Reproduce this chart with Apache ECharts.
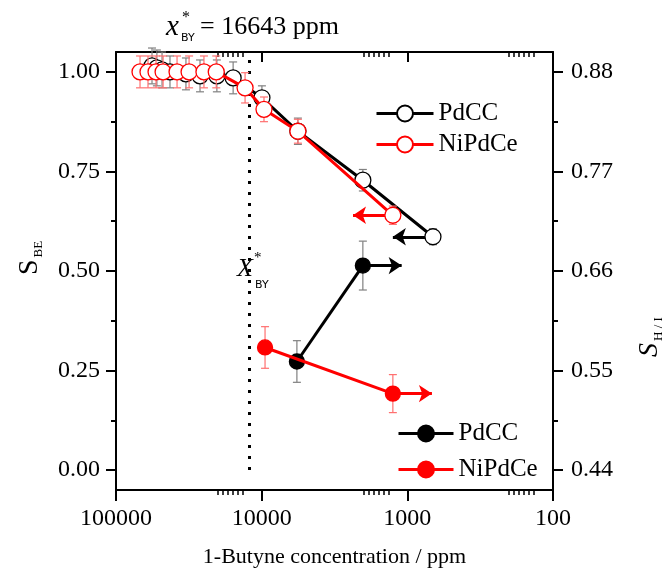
<!DOCTYPE html>
<html>
<head>
<meta charset="utf-8">
<script src="https://cdn.jsdelivr.net/npm/echarts@6/dist/echarts.min.js"></script>
<style>
  html, body { margin: 0; padding: 0; background: #fff; }
  #chart { width: 668px; height: 577px; }
</style>
</head>
<body>
<div id="chart"></div>
<script>
// open symbols: S_BE (left axis) vs 1-butyne concentration (ppm)
const pdccOpenX = [56600, 52400, 48300, 42600, 33100, 26500, 20300, 15700, 9960, 5640, 2020, 667];
const pdccOpenY = [1.015, 1.01, 1.005, 1.0, 0.995, 0.99, 0.99, 0.985, 0.935, 0.851, 0.728, 0.586];
const pdccOpenErr = [0.045, 0.045, 0.045, 0.04, 0.04, 0.04, 0.04, 0.04, 0.03, 0.033, 0.027, 0.02];

const nipdceOpenX = [68400, 60300, 53100, 47500, 38100, 31500, 24900, 20500, 13000, 9640, 5640, 1257];
const nipdceOpenY = [1.0, 1.0, 1.0, 1.0, 1.0, 1.0, 1.0, 1.0, 0.96, 0.906, 0.851, 0.64];
const nipdceOpenErr = [0.04, 0.04, 0.04, 0.04, 0.04, 0.04, 0.04, 0.04, 0.038, 0.031, 0.03, 0.023];

// filled symbols: S_H/I (right axis)
const pdccFillX = [5730, 2020];
const pdccFillY = [0.560, 0.666];
const pdccFillErr = [0.023, 0.027];

const nipdceFillX = [9480, 1257];
const nipdceFillY = [0.5755, 0.5245];
const nipdceFillErr = [0.023, 0.021];

// arrows: [from x, y, to x]
const pdccOpenArrow = [[667, 0.586, 1257]];
const nipdceOpenArrow = [[1257, 0.64, 2360]];
const pdccFillArrow = [[2020, 0.666, 1094]];
const nipdceFillArrow = [[1257, 0.5245, 678]];

// x*_BY marker line position on the axis
const xByLine = 12200;

const xMinor = [135, 146, 158, 171, 185, 200, 1350, 1460, 1580, 1710, 1850, 2000, 13500, 14600, 15800, 17100, 18500, 20000];
const leftMajor = [0, 0.25, 0.5, 0.75, 1];
const leftMinor = [0.125, 0.375, 0.625, 0.875];
const rightMajor = [0.44, 0.55, 0.66, 0.77, 0.88];
const rightMinor = [0.495, 0.605, 0.715, 0.825];

const SERIF = 'Liberation Serif';
const BLACK = '#000';
const RED = '#ff0000';

const chart = echarts.init(document.getElementById('chart'));

function pairs(xs, ys) {
  return xs.map((x, i) => [x, ys[i]]);
}

function errorBars(xs, ys, errs, color, yIndex, z) {
  return {
    type: 'custom',
    yAxisIndex: yIndex,
    z: z,
    silent: true,
    animation: false,
    encode: { x: 0, y: [1, 2] },
    data: xs.map((x, i) => [x, ys[i] - errs[i], ys[i] + errs[i]]),
    renderItem(params, api) {
      const lo = api.coord([api.value(0), api.value(1)]);
      const hi = api.coord([api.value(0), api.value(2)]);
      const w = 4;
      const style = { stroke: color, lineWidth: 1.2 };
      return {
        type: 'group',
        children: [
          { type: 'line', shape: { x1: lo[0], y1: lo[1], x2: hi[0], y2: hi[1] }, style },
          { type: 'line', shape: { x1: lo[0] - w, y1: lo[1], x2: lo[0] + w, y2: lo[1] }, style },
          { type: 'line', shape: { x1: hi[0] - w, y1: hi[1], x2: hi[0] + w, y2: hi[1] }, style }
        ]
      };
    }
  };
}

function arrowLines(arrows, color) {
  return {
    silent: true,
    z: 1,
    symbol: ['none', 'arrow'],
    symbolSize: 13,
    label: { show: false },
    lineStyle: { color: color, width: 3, type: 'solid' },
    data: arrows.map(a => [{ coord: [a[0], a[1]] }, { coord: [a[2], a[1]] }])
  };
}

function lineSeries(name, xs, ys, yIndex, fill, stroke, size, z, arrows) {
  return {
    name: name,
    type: 'line',
    yAxisIndex: yIndex,
    z: z,
    data: pairs(xs, ys),
    symbol: 'circle',
    symbolSize: size,
    lineStyle: { color: stroke, width: 3 },
    itemStyle: { color: fill, borderColor: stroke, borderWidth: 1.3 },
    emphasis: { disabled: true },
    animation: false,
    markLine: arrowLines(arrows, stroke)
  };
}

const axisLineStyle = { color: BLACK, width: 2 };
const labelStyle = { color: BLACK, fontFamily: SERIF, fontSize: 24 };
const legendText = { color: BLACK, fontFamily: SERIF, fontSize: 25 };

const option = {
  animation: false,
  grid: { left: 116, right: 115, top: 52, bottom: 87, containLabel: false, outerBoundsMode: 'none' },
  legend: [
    {
      data: ['PdCC', 'NiPdCe'],
      orient: 'vertical',
      left: 370,
      top: 96,
      itemWidth: 57,
      itemHeight: 20,
      itemGap: 6,
      selectedMode: false,
      lineStyle: { width: 3 },
      textStyle: legendText
    },
    {
      data: ['PdCC ', 'NiPdCe '],
      orient: 'vertical',
      left: 392,
      top: 416,
      itemWidth: 55,
      itemHeight: 20,
      itemGap: 11,
      selectedMode: false,
      lineStyle: { width: 3 },
      formatter: n => n.trim(),
      textStyle: legendText
    }
  ],
  xAxis: [
    {
      type: 'log', logBase: 10, min: 100, max: 100000, inverse: true, position: 'bottom',
      axisLine: { onZero: false, lineStyle: axisLineStyle },
      axisTick: { length: 11, lineStyle: { color: BLACK, width: 2 } },
      axisLabel: Object.assign({ margin: 17, formatter: v => String(Math.round(v)) }, labelStyle),
      splitLine: { show: false },
      name: '1-Butyne concentration / ppm',
      nameLocation: 'middle',
      nameGap: 56,
      nameTextStyle: { color: BLACK, fontFamily: SERIF, fontSize: 22 }
    },
    {
      type: 'log', logBase: 10, min: 100, max: 100000, inverse: true, position: 'top',
      axisLine: { onZero: false, lineStyle: axisLineStyle },
      axisTick: { inside: true, length: 10, lineStyle: { color: BLACK, width: 2 } },
      axisLabel: { show: false },
      splitLine: { show: false }
    },
    {
      type: 'log', logBase: 10, min: 100, max: 100000, inverse: true, position: 'bottom',
      axisLine: { show: false, onZero: false },
      axisTick: { length: 5, customValues: xMinor, lineStyle: { color: BLACK, width: 1.5 } },
      axisLabel: { show: false },
      splitLine: { show: false }
    },
    {
      type: 'log', logBase: 10, min: 100, max: 100000, inverse: true, position: 'top',
      axisLine: { show: false, onZero: false },
      axisTick: { inside: true, length: 5, customValues: xMinor, lineStyle: { color: BLACK, width: 1.5 } },
      axisLabel: { show: false },
      splitLine: { show: false }
    }
  ],
  yAxis: [
    {
      type: 'value', min: -0.05, max: 1.05, position: 'left',
      axisLine: { show: true, onZero: false, lineStyle: axisLineStyle },
      axisTick: { show: true, length: 10, customValues: leftMajor, lineStyle: { color: BLACK, width: 2 } },
      axisLabel: Object.assign({ margin: 16, customValues: leftMajor, formatter: v => v.toFixed(2) }, labelStyle),
      splitLine: { show: false }
    },
    {
      type: 'value', min: 0.418, max: 0.902, position: 'right',
      axisLine: { show: true, onZero: false, lineStyle: axisLineStyle },
      axisTick: { show: true, length: 10, customValues: rightMajor, lineStyle: { color: BLACK, width: 2 } },
      axisLabel: Object.assign({ margin: 18, customValues: rightMajor, formatter: v => v.toFixed(2) }, labelStyle),
      splitLine: { show: false }
    },
    {
      type: 'value', min: -0.05, max: 1.05, position: 'left',
      axisLine: { show: false, onZero: false },
      axisTick: { show: true, length: 5, customValues: leftMinor, lineStyle: { color: BLACK, width: 2 } },
      axisLabel: { show: false },
      splitLine: { show: false }
    },
    {
      type: 'value', min: 0.418, max: 0.902, position: 'right',
      axisLine: { show: false, onZero: false },
      axisTick: { show: true, length: 5, customValues: rightMinor, lineStyle: { color: BLACK, width: 2 } },
      axisLabel: { show: false },
      splitLine: { show: false }
    }
  ],
  graphic: [
    {
      type: 'text', x: 30, y: 258, rotation: Math.PI / 2,
      style: {
        text: '{a|S}{b|BE}', align: 'center', verticalAlign: 'middle',
        rich: {
          a: { fontFamily: SERIF, fontSize: 28, fill: BLACK, lineHeight: 30 },
          b: { fontFamily: SERIF, fontSize: 13, fill: BLACK, verticalAlign: 'bottom', padding: [0, 0, 0, 2] }
        }
      }
    },
    {
      type: 'text', x: 650, y: 337, rotation: Math.PI / 2,
      style: {
        text: '{a|S}{b|H / I}', align: 'center', verticalAlign: 'middle',
        rich: {
          a: { fontFamily: SERIF, fontStyle: 'italic', fontSize: 28, fill: BLACK, lineHeight: 30 },
          b: { fontFamily: SERIF, fontSize: 13, fill: BLACK, verticalAlign: 'bottom', padding: [0, 0, 0, 2] }
        }
      }
    },
    { type: 'text', x: 166, y: 13, style: { text: 'x', fontFamily: SERIF, fontStyle: 'italic', fontSize: 29, fill: BLACK } },
    { type: 'text', x: 182, y: 10, style: { text: '*', fontFamily: SERIF, fontSize: 16, fill: BLACK } },
    { type: 'text', x: 181, y: 33, style: { text: 'BY', fontFamily: 'DejaVu Sans', fontSize: 11, fill: BLACK } },
    { type: 'text', x: 200, y: 14, style: { text: '= 16643 ppm', fontFamily: SERIF, fontSize: 26, fill: BLACK } },
    { type: 'text', x: 237, y: 256, style: { text: 'X', fontFamily: SERIF, fontStyle: 'italic', fontSize: 26, fill: BLACK } },
    { type: 'text', x: 254, y: 251, style: { text: '*', fontFamily: SERIF, fontSize: 15, fill: BLACK } },
    { type: 'text', x: 255, y: 280, style: { text: 'BY', fontFamily: 'DejaVu Sans', fontSize: 11, fill: BLACK } }
  ],
  series: [
    errorBars(pdccOpenX, pdccOpenY, pdccOpenErr, '#808080', 0, 2),
    lineSeries('PdCC', pdccOpenX, pdccOpenY, 0, '#fff', BLACK, 16, 3, pdccOpenArrow),
    errorBars(nipdceOpenX, nipdceOpenY, nipdceOpenErr, '#ff7070', 0, 4),
    lineSeries('NiPdCe', nipdceOpenX, nipdceOpenY, 0, '#fff', RED, 16, 5, nipdceOpenArrow),
    errorBars(pdccFillX, pdccFillY, pdccFillErr, '#808080', 1, 2),
    lineSeries('PdCC ', pdccFillX, pdccFillY, 1, BLACK, BLACK, 15, 3, pdccFillArrow),
    errorBars(nipdceFillX, nipdceFillY, nipdceFillErr, '#ff7070', 1, 4),
    lineSeries('NiPdCe ', nipdceFillX, nipdceFillY, 1, RED, RED, 15, 5, nipdceFillArrow),
    {
      type: 'line', data: [], silent: true,
      markLine: {
        silent: true, z: 1, symbol: ['none', 'none'], label: { show: false },
        lineStyle: { color: BLACK, width: 3, type: [3, 8] },
        data: [[{ coord: [xByLine, 1.03] }, { coord: [xByLine, -0.02] }]]
      }
    }
  ]
};

chart.setOption(option);
</script>
</body>
</html>
